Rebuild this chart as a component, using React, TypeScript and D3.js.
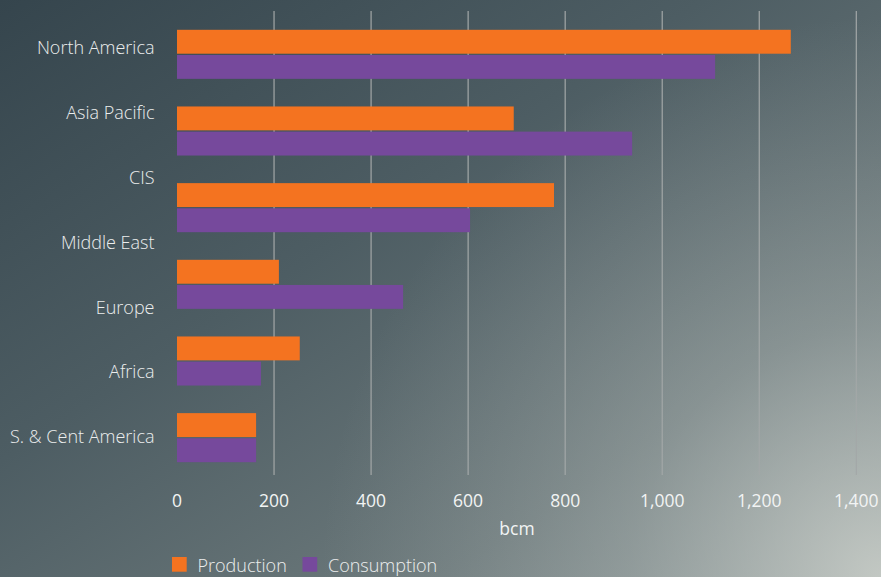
import React from "react";
import * as d3 from "d3";

const categories = ["North America", "Asia Pacific", "CIS", "Middle East", "Europe", "Africa", "S. & Cent America"];
const barRows = ["row1", "row2", "row3", "row4", "row5", "row6"];
const production = [1265, 694, 777, 210, 253, 163];
const consumption = [1109, 938, 604, 466, 173, 163];
const seriesNames = ["Production", "Consumption"];
const seriesColors = ["#f47320", "#76499c"];
const xTicks = [0, 200, 400, 600, 800, 1000, 1200, 1400];
const axisTitle = "bcm";

const W = 881;
const H = 577;

export default function App() {
  const x = d3.scaleLinear().domain([0, 1400]).range([177, 856.3]);
  const yLabel = d3.scaleBand<string>().domain(categories).range([15.6, 469.4]);
  const yRow = d3.scaleBand<string>().domain(barRows).range([16, 476]).paddingInner(0.36).paddingOuter(0.18);
  const ySeries = d3.scaleBand<string>().domain(seriesNames).range([0, yRow.bandwidth()]).paddingInner(0.05);
  const values = [production, consumption];
  const fmt = d3.format(",");
  const font = "'Open Sans', sans-serif";
  const textColor = "#eceeee";
  const fs = 18;

  return (
    <svg width={W} height={H} style={{ position: "absolute", left: 0, top: 0, display: "block" }} fontFamily={font} fontWeight={300}>
      <defs>
        <linearGradient id="bg" x1="0" y1="0" x2="1" y2="1">
          <stop offset="0" stopColor="#35454d" />
          <stop offset="0.4" stopColor="#4d5d63" />
          <stop offset="0.75" stopColor="#6c797b" />
          <stop offset="1" stopColor="#8c9797" />
        </linearGradient>
        <radialGradient id="spot" cx={W} cy={H} r={560} gradientUnits="userSpaceOnUse">
          <stop offset="0" stopColor="#d0d4ce" stopOpacity="0.8" />
          <stop offset="0.45" stopColor="#bcc3c0" stopOpacity="0.35" />
          <stop offset="1" stopColor="#a8b0b0" stopOpacity="0" />
        </radialGradient>
      </defs>
      <rect width={W} height={H} fill="url(#bg)" />
      <rect width={W} height={H} fill="url(#spot)" />

      {xTicks.filter((t) => t > 0).map((t) => (
        <line key={t} x1={x(t)} x2={x(t)} y1={11} y2={475} stroke="#a3a8a8" strokeWidth={1.2} />
      ))}

      {barRows.map((r, i) => (
        <g key={r} transform={`translate(0,${yRow(r)})`}>
          {seriesNames.map((s, j) => (
            <rect
              key={s}
              x={x(0)}
              y={ySeries(s)}
              width={x(values[j][i]) - x(0)}
              height={ySeries.bandwidth()}
              fill={seriesColors[j]}
            />
          ))}
        </g>
      ))}

      {categories.map((c) => (
        <text
          key={c}
          x={154.5}
          y={(yLabel(c) as number) + yLabel.bandwidth() / 2}
          dy="0.35em"
          textAnchor="end"
          fontSize={fs}
          fill={textColor}
        >
          {c}
        </text>
      ))}

      {xTicks.map((t) => (
        <text key={t} x={x(t)} y={506.5} textAnchor="middle" fontSize={17.5} fontWeight={400} fill="#f2f4f4">
          {fmt(t)}
        </text>
      ))}
      <text x={517} y={534.5} textAnchor="middle" fontSize={17.5} fontWeight={400} fill="#f2f4f4">
        {axisTitle}
      </text>

      {seriesNames.map((s, j) => {
        const lx = [172, 302.5][j];
        return (
          <g key={s}>
            <rect x={lx} y={557} width={14.7} height={14.7} fill={seriesColors[j]} />
            <text x={lx + 25.5} y={572} fontSize={fs} fill={textColor}>
              {s}
            </text>
          </g>
        );
      })}
    </svg>
  );
}
